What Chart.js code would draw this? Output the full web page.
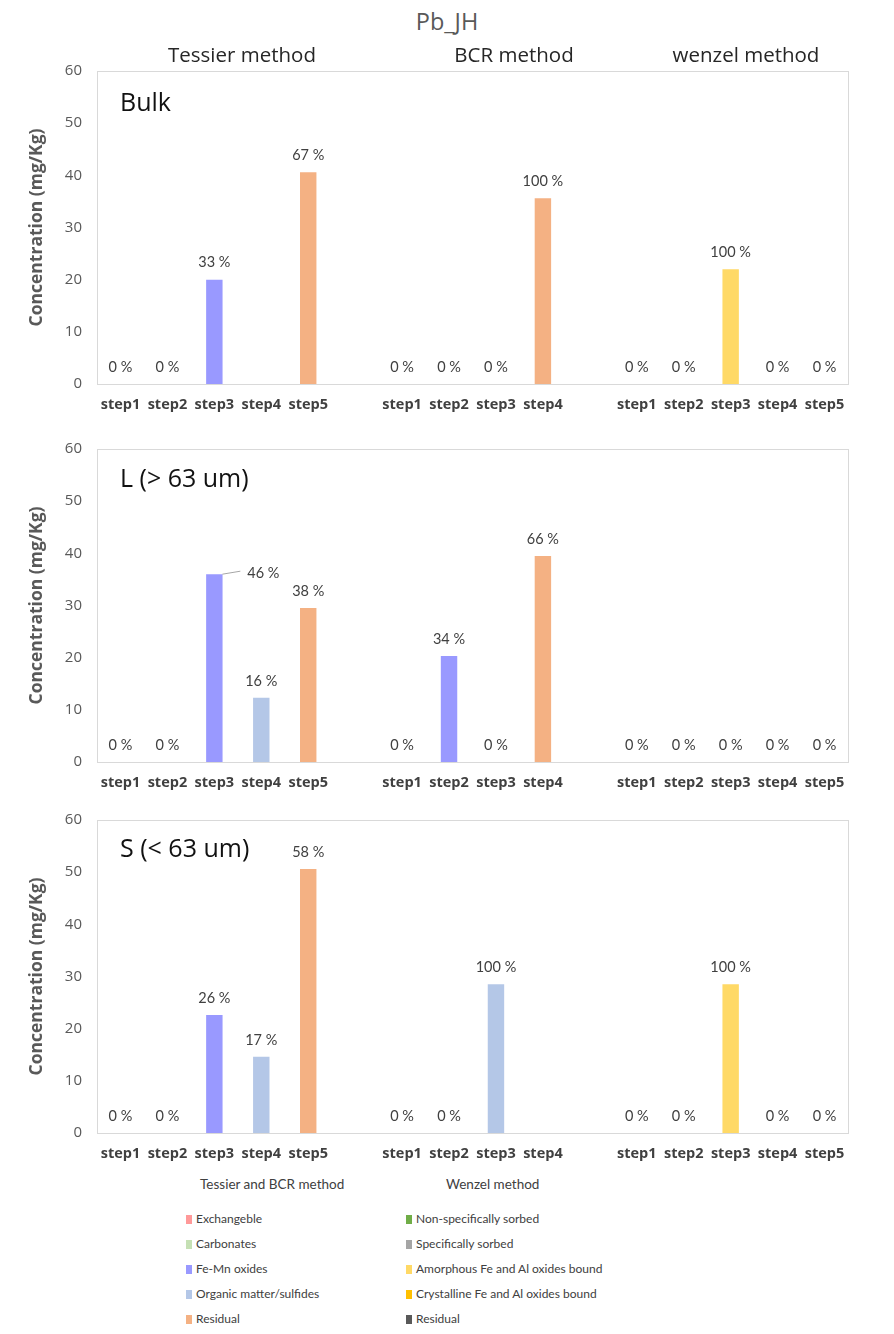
<!DOCTYPE html>
<html>
<head>
<meta charset="utf-8">
<script src="https://cdn.jsdelivr.net/npm/chart.js@4.4.0/dist/chart.umd.min.js"></script>
<style>
  body { margin: 0; width: 894px; height: 1334px; position: relative; background: #fff; font-family: "Open Sans", Lato, sans-serif; overflow: hidden; }
  .txt { position: absolute; white-space: nowrap; }
  .panel { position: absolute; left: 0; width: 894px; height: 373px; }
  .tag { position: absolute; left: 120px; font-size: 25px; color: #111; }
  .leg { position: absolute; font-family: Lato, sans-serif; font-size: 12px; color: #404040; }
  .leg div { height: 25px; line-height: 25px; }
  .leg span { display: inline-block; width: 6px; height: 9px; margin-right: 4px; vertical-align: -1px; }
</style>
</head>
<body>
<div class="panel" style="top:47px"><canvas id="bulk"></canvas></div>
<div class="panel" style="top:425px"><canvas id="large"></canvas></div>
<div class="panel" style="top:796px"><canvas id="small"></canvas></div>

<div class="txt" style="left:0;width:894px;text-align:center;top:5px;font-size:23.5px;color:#595959;">Pb_JH</div>
<div class="txt" style="left:142px;width:200px;text-align:center;top:40px;font-size:20.5px;color:#262626;">Tessier method</div>
<div class="txt" style="left:414px;width:200px;text-align:center;top:40px;font-size:20.5px;color:#262626;">BCR method</div>
<div class="txt" style="left:646px;width:200px;text-align:center;top:40px;font-size:20.5px;color:#262626;">wenzel method</div>

<div class="tag" style="top:84px">Bulk</div>
<div class="tag" style="top:460px">L (&gt; 63 um)</div>
<div class="tag" style="top:830px">S (&lt; 63 um)</div>

<div class="leg" style="left:200px;top:1176px;font-size:13.5px;">Tessier and BCR method</div>
<div class="leg" style="left:446px;top:1176px;font-size:13.5px;">Wenzel method</div>
<div class="leg" id="legA" style="left:186px;top:1206px;"></div>
<div class="leg" id="legB" style="left:406px;top:1206px;"></div>

<script>
// categories: Tessier steps, gap, BCR steps, gap, Wenzel steps
const categories = ['step1','step2','step3','step4','step5','',
                    'step1','step2','step3','step4','',
                    'step1','step2','step3','step4','step5'];

// concentrations (mg/Kg)
const bulkValues  = [0, 0, 20, null, 40.6, null, 0, 0, 0, 35.6, null, 0, 0, 22, 0, 0];
const largeValues = [0, 0, 36, 12.3, 29.5, null, 0, 20.3, 0, 39.5, null, 0, 0, 0, 0, 0];
const smallValues = [0, 0, 22.6, 14.6, 50.6, null, 0, 0, 28.5, null, null, 0, 0, 28.5, 0, 0];

// percent labels above bars
const bulkLabels  = ['0 %','0 %','33 %',null,'67 %',null,'0 %','0 %','0 %','100 %',null,'0 %','0 %','100 %','0 %','0 %'];
const largeLabels = ['0 %','0 %','46 %','16 %','38 %',null,'0 %','34 %','0 %','66 %',null,'0 %','0 %','0 %','0 %','0 %'];
const smallLabels = ['0 %','0 %','26 %','17 %','58 %',null,'0 %','0 %','100 %',null,null,'0 %','0 %','100 %','0 %','0 %'];

const yTicks = [0, 10, 20, 30, 40, 50, 60];

// legend
const tessierBcrFractions = ['Exchangeble','Carbonates','Fe-Mn oxides','Organic matter/sulfides','Residual'];
const wenzelFractions = ['Non-specifically sorbed','Specifically sorbed','Amorphous Fe and Al oxides bound','Crystalline Fe and Al oxides bound','Residual'];

const tbColors = ['#FF9999','#C5E0B4','#9999FF','#B4C7E7','#F4B183'];
const wzColors = ['#70AD47','#A5A5A5','#FFD966','#FFC000','#595959'];
// colour of each category slot (Tessier: 5 fractions, BCR: 4, Wenzel: 5)
const barColors = [tbColors[0], tbColors[1], tbColors[2], tbColors[3], tbColors[4], 'transparent',
                   tbColors[0], tbColors[2], tbColors[3], tbColors[4], 'transparent',
                   wzColors[0], wzColors[1], wzColors[2], wzColors[3], wzColors[4]];

function fillLegend(id, names, colors) {
  document.getElementById(id).innerHTML = names.map((n, i) =>
    '<div><span style="background:' + colors[i] + '"></span>' + n + '</div>').join('');
}
fillLegend('legA', tessierBcrFractions, tbColors);
fillLegend('legB', wenzelFractions, wzColors);

const pctLabels = {
  id: 'pctLabels',
  afterDatasetsDraw(chart, args, opts) {
    const ctx = chart.ctx;
    const xs = chart.scales.x, ys = chart.scales.y;
    const vals = chart.data.datasets[0].data;
    ctx.save();
    ctx.font = '14.5px Lato, sans-serif';
    ctx.fillStyle = '#404040';
    ctx.textAlign = 'center';
    ctx.textBaseline = 'middle';
    opts.labels.forEach((lab, i) => {
      if (!lab) return;
      const x = xs.getPixelForValue(i);
      const top = ys.getPixelForValue(vals[i] || 0);
      const lead = opts.leader && opts.leader.index === i;
      if (lead) {
        ctx.strokeStyle = '#A6A6A6';
        ctx.lineWidth = 1;
        ctx.beginPath();
        ctx.moveTo(x + 8, top);
        ctx.lineTo(x + 26, top - 3);
        ctx.stroke();
        ctx.fillText(lab, x + 49, top - 1);
      } else {
        ctx.fillText(lab, x, top - 17);
      }
    });
    ctx.restore();
  }
};

const frame = {
  id: 'frame',
  beforeDatasetsDraw(chart) {
    const a = chart.chartArea, ctx = chart.ctx;
    ctx.save();
    ctx.strokeStyle = '#D9D9D9';
    ctx.lineWidth = 1;
    ctx.strokeRect(a.left + 0.5, a.top + 0.5, a.right - a.left, a.bottom - a.top);
    ctx.restore();
  }
};

function makeChart(id, values, labels, leader) {
  return new Chart(document.getElementById(id), {
    type: 'bar',
    data: {
      labels: categories,
      datasets: [{
        data: values,
        backgroundColor: barColors,
        categoryPercentage: 1,
        barPercentage: 0.35
      }]
    },
    options: {
      responsive: true,
      maintainAspectRatio: false,
      animation: false,
      layout: { padding: { top: 0, right: 46, bottom: 0, left: 0 } },
      plugins: {
        legend: { display: false },
        tooltip: { enabled: false },
        pctLabels: { labels: labels, leader: leader }
      },
      scales: {
        x: {
          grid: { display: false, drawTicks: false },
          border: { color: '#D9D9D9' },
          ticks: { color: '#404040', font: { size: 14.5, weight: 'bold', family: '"Open Sans", sans-serif' }, padding: 12, maxRotation: 0, autoSkip: false },
          afterFit: s => { s.height = 36; }
        },
        y: {
          min: 0, max: 60,
          afterBuildTicks: s => { s.ticks = yTicks.map(v => ({ value: v })); },
          grid: { display: false, drawTicks: false },
          border: { color: '#D9D9D9' },
          ticks: { color: '#595959', font: { size: 15, family: '"Open Sans", sans-serif' }, padding: 15 },
          title: {
            display: true,
            text: 'Concentration (mg/Kg)',
            color: '#595959',
            font: { size: 17.5, weight: 'bold', family: '"Open Sans", sans-serif' },
            padding: { top: 27, bottom: 0 }
          },
          afterFit: s => { s.width = 97; }
        }
      }
    },
    plugins: [frame, pctLabels]
  });
}

makeChart('bulk', bulkValues, bulkLabels, null);
makeChart('large', largeValues, largeLabels, { index: 2 });
makeChart('small', smallValues, smallLabels, null);
</script>
</body>
</html>
